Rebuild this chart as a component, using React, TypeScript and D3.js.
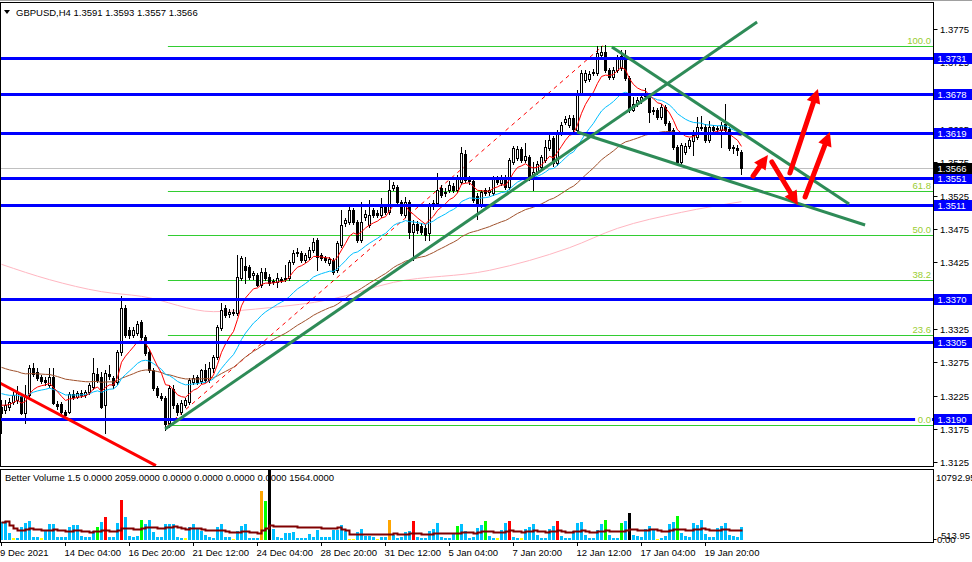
import React from "react";
import * as d3 from "d3";

// ---------- DATA ----------
const opens = [1.3208,1.3203,1.3208,1.3215,1.3219,1.3225,1.3199,1.3226,1.3267,1.3260,
1.3253,1.3249,1.3241,1.3253,1.3212,1.3212,1.3200,1.3200,1.3228,1.3223,
1.3229,1.3226,1.3230,1.3238,1.3257,1.3253,1.3211,1.3257,1.3251,1.3245,
1.3290,1.3356,1.3323,1.3316,1.3319,1.3335,1.3313,1.3290,1.3263,1.3236,
1.3224,1.3221,1.3184,1.3235,1.3211,1.3200,1.3211,1.3215,1.3245,1.3253,
1.3247,1.3263,1.3248,1.3266,1.3283,1.3326,1.3356,1.3347,1.3349,1.3349,
1.3401,1.3419,1.3418,1.3406,1.3406,1.3391,1.3410,1.3403,1.3397,1.3395,
1.3400,1.3400,1.3401,1.3426,1.3439,1.3439,1.3428,1.3433,1.3443,1.3458,
1.3436,1.3431,1.3424,1.3428,1.3413,1.3451,1.3484,1.3485,1.3503,1.3485,
1.3458,1.3493,1.3481,1.3503,1.3499,1.3496,1.3508,1.3500,1.3536,1.3538,
1.3515,1.3496,1.3515,1.3470,1.3482,1.3479,1.3476,1.3469,1.3509,1.3514,
1.3536,1.3529,1.3533,1.3539,1.3533,1.3545,1.3587,1.3550,1.3547,1.3524,
1.3511,1.3533,1.3530,1.3529,1.3550,1.3544,1.3553,1.3538,1.3575,1.3581,
1.3595,1.3578,1.3583,1.3553,1.3560,1.3568,1.3578,1.3596,1.3611,1.3574,
1.3619,1.3635,1.3631,1.3641,1.3623,1.3679,1.3698,1.3700,1.3709,1.3709,
1.3736,1.3740,1.3713,1.3703,1.3713,1.3716,1.3733,1.3701,1.3653,1.3662,
1.3667,1.3674,1.3676,1.3652,1.3653,1.3643,1.3658,1.3634,1.3623,1.3598,
1.3575,1.3590,1.3599,1.3607,1.3613,1.3626,1.3628,1.3608,1.3628,1.3625,
1.3623,1.3632,1.3625,1.3598,1.3596,1.3591];

const highs = [1.3219,1.3219,1.3222,1.3231,1.3240,1.3229,1.3241,1.3271,1.3274,1.3267,
1.3256,1.3253,1.3267,1.3267,1.3217,1.3215,1.3203,1.3231,1.3233,1.3232,
1.3233,1.3233,1.3244,1.3281,1.3267,1.3260,1.3263,1.3271,1.3254,1.3293,
1.3374,1.3361,1.3328,1.3328,1.3337,1.3338,1.3316,1.3295,1.3267,1.3239,
1.3229,1.3224,1.3241,1.3241,1.3214,1.3219,1.3222,1.3251,1.3256,1.3256,
1.3265,1.3272,1.3275,1.3286,1.3331,1.3364,1.3361,1.3355,1.3355,1.3436,
1.3434,1.3433,1.3421,1.3412,1.3409,1.3416,1.3416,1.3407,1.3400,1.3409,
1.3403,1.3421,1.3428,1.3444,1.3446,1.3442,1.3439,1.3448,1.3461,1.3461,
1.3439,1.3434,1.3433,1.3431,1.3457,1.3503,1.3491,1.3508,1.3506,1.3488,
1.3515,1.3503,1.3518,1.3506,1.3503,1.3521,1.3511,1.3550,1.3545,1.3541,
1.3518,1.3523,1.3518,1.3488,1.3487,1.3484,1.3481,1.3514,1.3518,1.3559,
1.3541,1.3536,1.3547,1.3544,1.3556,1.3598,1.3593,1.3554,1.3550,1.3529,
1.3533,1.3536,1.3538,1.3554,1.3554,1.3556,1.3556,1.3581,1.3599,1.3599,
1.3598,1.3604,1.3586,1.3575,1.3577,1.3586,1.3608,1.3619,1.3614,1.3623,
1.3635,1.3644,1.3646,1.3646,1.3683,1.3713,1.3713,1.3712,1.3715,1.3749,
1.3749,1.3751,1.3716,1.3718,1.3736,1.3743,1.3743,1.3704,1.3673,1.3673,
1.3676,1.3686,1.3679,1.3658,1.3656,1.3662,1.3661,1.3637,1.3626,1.3601,
1.3604,1.3604,1.3611,1.3623,1.3643,1.3644,1.3632,1.3637,1.3631,1.3629,
1.3635,1.3662,1.3628,1.3601,1.3601,1.3593];

const lows = [1.3169,1.3199,1.3203,1.3212,1.3214,1.3197,1.3184,1.3223,1.3254,1.3249,
1.3244,1.3241,1.3238,1.3212,1.3205,1.3197,1.3191,1.3199,1.3220,1.3221,
1.3223,1.3223,1.3227,1.3235,1.3245,1.3206,1.3169,1.3250,1.3236,1.3242,
1.3286,1.3313,1.3311,1.3313,1.3316,1.3310,1.3286,1.3260,1.3233,1.3223,
1.3219,1.3174,1.3178,1.3206,1.3196,1.3197,1.3208,1.3212,1.3242,1.3242,
1.3244,1.3245,1.3245,1.3260,1.3280,1.3323,1.3343,1.3343,1.3346,1.3346,
1.3398,1.3394,1.3400,1.3400,1.3389,1.3388,1.3398,1.3391,1.3392,1.3388,
1.3395,1.3397,1.3398,1.3423,1.3434,1.3425,1.3425,1.3430,1.3440,1.3413,
1.3428,1.3425,1.3421,1.3407,1.3410,1.3448,1.3479,1.3482,1.3482,1.3455,
1.3455,1.3488,1.3478,1.3493,1.3493,1.3493,1.3497,1.3497,1.3533,1.3512,
1.3496,1.3493,1.3461,1.3428,1.3469,1.3467,1.3458,1.3458,1.3505,1.3511,
1.3523,1.3524,1.3530,1.3530,1.3530,1.3542,1.3545,1.3542,1.3515,1.3490,
1.3508,1.3526,1.3526,1.3526,1.3542,1.3541,1.3535,1.3535,1.3572,1.3578,
1.3575,1.3575,1.3548,1.3533,1.3557,1.3565,1.3575,1.3593,1.3569,1.3571,
1.3616,1.3632,1.3628,1.3622,1.3620,1.3676,1.3695,1.3697,1.3706,1.3706,
1.3733,1.3710,1.3700,1.3700,1.3710,1.3713,1.3698,1.3650,1.3652,1.3659,
1.3664,1.3671,1.3635,1.3647,1.3640,1.3640,1.3631,1.3620,1.3595,1.3572,
1.3572,1.3587,1.3596,1.3586,1.3610,1.3623,1.3605,1.3605,1.3620,1.3622,
1.3598,1.3620,1.3593,1.3589,1.3586,1.3557];

const closes = [1.3199,1.3211,1.3215,1.3226,1.3229,1.3199,1.3226,1.3267,1.3257,1.3251,
1.3247,1.3245,1.3253,1.3214,1.3209,1.3200,1.3196,1.3228,1.3223,1.3229,
1.3226,1.3230,1.3241,1.3259,1.3248,1.3208,1.3259,1.3254,1.3241,1.3290,
1.3356,1.3316,1.3316,1.3323,1.3332,1.3313,1.3289,1.3263,1.3236,1.3226,
1.3221,1.3182,1.3236,1.3211,1.3200,1.3214,1.3219,1.3248,1.3251,1.3245,
1.3263,1.3248,1.3266,1.3283,1.3328,1.3353,1.3346,1.3350,1.3350,1.3403,
1.3431,1.3413,1.3403,1.3409,1.3391,1.3410,1.3401,1.3394,1.3395,1.3401,
1.3398,1.3401,1.3425,1.3439,1.3440,1.3428,1.3436,1.3443,1.3455,1.3433,
1.3431,1.3428,1.3430,1.3410,1.3454,1.3481,1.3488,1.3503,1.3485,1.3458,
1.3485,1.3497,1.3496,1.3496,1.3496,1.3508,1.3500,1.3533,1.3541,1.3515,
1.3499,1.3515,1.3470,1.3482,1.3473,1.3470,1.3466,1.3511,1.3514,1.3533,
1.3526,1.3530,1.3541,1.3533,1.3553,1.3589,1.3548,1.3547,1.3518,1.3514,
1.3530,1.3529,1.3533,1.3551,1.3545,1.3553,1.3538,1.3578,1.3596,1.3595,
1.3578,1.3584,1.3553,1.3560,1.3572,1.3583,1.3598,1.3608,1.3574,1.3619,
1.3631,1.3640,1.3641,1.3625,1.3679,1.3709,1.3709,1.3707,1.3710,1.3739,
1.3740,1.3713,1.3703,1.3713,1.3733,1.3734,1.3701,1.3653,1.3662,1.3668,
1.3673,1.3679,1.3650,1.3653,1.3643,1.3658,1.3634,1.3623,1.3598,1.3575,
1.3601,1.3599,1.3608,1.3616,1.3628,1.3628,1.3608,1.3628,1.3623,1.3626,
1.3631,1.3623,1.3596,1.3596,1.3593,1.3566];

const volumes = [2690,2945,980,260,260,2015,2580,2945,465,465,
205,1395,2430,2430,360,360,360,1910,2325,2325,
620,360,360,1395,2015,2790,3565,360,360,2530,
6200,3460,620,465,620,3100,2430,3050,1135,360,
360,2430,2430,2430,465,260,260,2015,2430,1655,
1395,775,465,260,2015,2430,465,360,100,1395,
2170,2430,260,260,260,7595,6045,10793,1655,465,
260,980,980,1135,260,260,260,880,465,1500,
465,465,465,1500,1500,2325,1395,100,100,1135,
1655,620,620,360,100,360,360,3050,775,260,
360,1240,1395,2945,465,260,260,1395,1705,2635,
465,260,260,980,2170,2480,1395,260,465,1860,
2325,2945,620,260,260,1550,2635,2945,465,260,
260,1655,2015,2480,775,260,260,1705,2170,2945,
620,260,260,1395,2635,2790,775,260,260,1550,
2480,3100,775,260,260,2635,2945,4185,775,620,
465,1705,2170,1550,100,260,620,2480,2790,3720,
1085,620,465,2635,2325,3100,930,465,465,1860,
2170,2635,775,620,465,2015];

// Better Volume bar classes
const lowVolumeBars = [3,10,46,58,87,88,94,124,130,164];
const climaxUpBars = [26,30,103,127,139];
const churnBars = [24,35,66,114,121,151,155,169];
const climaxDownBars = [65,97];
const climaxChurnBars = [67,157];

const timeTickBars = [0,16,32,48,64,80,96,112,128,144,160,176];
const timeTickLabels = ["9 Dec 2021","14 Dec 04:00","16 Dec 20:00","21 Dec 12:00","24 Dec 04:00","28 Dec 20:00","31 Dec 12:00","5 Jan 04:00","7 Jan 20:00","12 Jan 12:00","17 Jan 04:00","19 Jan 20:00"];

const priceTicks = [1.3775,1.3725,1.3675,1.3625,1.3575,1.3525,1.3475,1.3425,1.3375,1.3325,1.3275,1.3225,1.3175,1.3125];
const levelPrices = [1.3731,1.3678,1.3619,1.3551,1.3511,1.3370,1.3305,1.3190];
const fibLevels = [0,23.6,38.2,50,61.8,100];
const fibLow = 1.3181;
const fibHigh = 1.3750;
const fibLowBar = 41.6;
const fibHighBar = 150.4;
const currentPrice = 1.3566;

// moving-average starting values read at the first bar
const redMaStart = 1.3214;
const blueMaStart = 1.3231;
const brownMaStart = 1.3270;
const pinkMaBars = [0,12,25,35,53,67,82,98,122,142,154,170,185];
const pinkMaValues = [1.3422,1.3399,1.3381,1.3374,1.3351,1.3357,1.3369,1.3395,1.3413,1.3447,1.3476,1.3500,1.3516];

// drawn objects: [bar1, price1, bar2, price2]
const greenTrendlines = [
  [40.9,1.3175,188.9,1.37855],
  [143.9,1.36205,215.9,1.3481],
  [152.6,1.3748,211.9,1.35125],
];
const redTrendlines = [[-0.4,1.3244,38.6,1.3120]];
const redArrows = [
  [187.9,1.35545,191.6,1.3586],
  [192.6,1.35755,199.1,1.3511],
  [197.1,1.3559,204.1,1.3685],
  [200.9,1.3523,207.1,1.36205],
];

const headerText = "GBPUSD,H4  1.3591 1.3593 1.3557 1.3566";
const volumeHeader = "Better Volume 1.5 0.0000 2059.0000 0.0000 0.0000 0.0000 0.0000 1564.0000";
const volumeMax = 10792.95;

// ---------- HELPERS ----------
function ema(values: number[], period: number, seed: number) {
  const k = 2 / (period + 1);
  let prev = seed;
  return values.map((v) => (prev = prev + k * (v - prev)));
}
function sma(values: number[], period: number) {
  return values.map((_, i) => {
    const s = Math.max(0, i - period + 1);
    const w = values.slice(s, i + 1);
    return d3.mean(w) as number;
  });
}

const FONT = "'Liberation Sans', Arial, sans-serif";

export default function App() {
  const AXIS_X = 933.5;
  const x = d3.scaleLinear().domain([0, 1]).range([1.5, 5.5]);
  const y = d3.scaleLinear().domain([1.3125, 1.3775]).range([462.33, 29]);
  const yv = d3.scaleLinear().domain([0, volumeMax]).range([539.5, 470]);

  const n = closes.length;
  const idx = d3.range(n);
  const redMa = ema(closes, 8, redMaStart);
  const blueMa = ema(closes, 21, blueMaStart);
  const brownMa = ema(closes, 55, brownMaStart);
  const volAvg = sma(volumes, 20);

  const maLine = d3.line<number>().x((_, i) => x(i)).y((d) => y(d));
  const pinkLine = d3
    .line<number>()
    .x((_, i) => x(pinkMaBars[i]))
    .y((d) => y(d))
    .curve(d3.curveMonotoneX);
  const volLine = d3.line<number>().x((_, i) => x(i)).y((d) => Math.round(yv(d)) + 0.5).curve(d3.curveStepAfter);

  const volColor = (i: number) => {
    if (climaxChurnBars.includes(i)) return "#000000";
    if (climaxDownBars.includes(i)) return "#FFA500";
    if (climaxUpBars.includes(i)) return "#FF0000";
    if (churnBars.includes(i)) return "#00FF00";
    if (lowVolumeBars.includes(i)) return "#FFFF00";
    return "#00BFFF";
  };

  const fibPrice = (lv: number) => fibLow + (fibHigh - fibLow) * (lv / 100);

  const arrowShapes = redArrows.map(([b1, p1, b2, p2]) => {
    const x1 = x(b1), y1 = y(p1), x2 = x(b2), y2 = y(p2);
    const dx = x2 - x1, dy = y2 - y1;
    const len = Math.hypot(dx, dy);
    const ux = dx / len, uy = dy / len;
    const hl = 14, hw = 7;
    const bx = x2 - ux * hl, by = y2 - uy * hl;
    const px = -uy, py = ux;
    return {
      shaft: [x1, y1, bx + ux * 2, by + uy * 2],
      head: `${x2},${y2} ${bx + px * hw},${by + py * hw} ${bx - px * hw},${by - py * hw}`,
    };
  });

  return (
    <svg
      width={972}
      height={562}
      style={{ position: "absolute", left: 0, top: 0, background: "#ffffff" }}
      fontFamily={FONT}
      fontSize={9.5}
    >
      <defs>
        <clipPath id="mainClip">
          <rect x={1} y={3} width={932} height={463} />
        </clipPath>
        <clipPath id="volClip">
          <rect x={1} y={470} width={932} height={72} />
        </clipPath>
      </defs>
      <rect x={0} y={0} width={972} height={562} fill="#ffffff" />
      <rect x={0} y={0} width={972} height={1} fill="#a0a0a0" />

      {/* MAIN PANEL */}
      <g clipPath="url(#mainClip)">
        {/* pink MA */}
        <path d={pinkLine(pinkMaValues) || ""} fill="none" stroke="#FFB6C1" strokeWidth={1} />
        {/* fib lines */}
        {fibLevels.map((lv) => {
          const yy = Math.round(y(fibPrice(lv))) + 0.5;
          return <line key={"f" + lv} x1={x(fibLowBar)} x2={AXIS_X} y1={yy} y2={yy} stroke="#32CD32" strokeWidth={1} />;
        })}
        <line
          x1={x(fibLowBar)}
          y1={y(fibLow)}
          x2={x(fibHighBar)}
          y2={y(fibHigh)}
          stroke="#FF0000"
          strokeWidth={1}
          strokeDasharray="4,4"
        />
        {/* current price line */}
        <line x1={0} x2={AXIS_X} y1={Math.round(y(currentPrice)) + 0.5} y2={Math.round(y(currentPrice)) + 0.5} stroke="#C0C0C0" strokeWidth={1} />
        {/* candles */}
        {idx.map((i) => {
          const o = opens[i], h = highs[i], l = lows[i], c = closes[i];
          const cx = x(i);
          const top = Math.round(y(Math.max(o, c))) + 0.5;
          const bot = Math.round(y(Math.min(o, c))) + 0.5;
          const bull = c >= o;
          return (
            <g key={"c" + i}>
              <line x1={cx} x2={cx} y1={Math.round(y(h))} y2={Math.round(y(l)) + 1} stroke="#000" strokeWidth={1} />
              {bot - top >= 1 ? (
                <rect x={cx - 1} y={top} width={2} height={bot - top} fill={bull ? "#fff" : "#000"} stroke="#000" strokeWidth={1} />
              ) : (
                <line x1={cx - 1.5} x2={cx + 1.5} y1={top} y2={top} stroke="#000" strokeWidth={1} />
              )}
            </g>
          );
        })}
        {/* MAs */}
        <path d={maLine(brownMa) || ""} fill="none" stroke="#A0522D" strokeWidth={1} />
        <path d={maLine(blueMa) || ""} fill="none" stroke="#00BFFF" strokeWidth={1} />
        <path d={maLine(redMa) || ""} fill="none" stroke="#FF0000" strokeWidth={1} />
        {/* horizontal levels */}
        {levelPrices.map((p) => {
          const yy = Math.round(y(p)) + 0.5;
          return <line key={"h" + p} x1={0} x2={AXIS_X} y1={yy} y2={yy} stroke="#0000FF" strokeWidth={3} />;
        })}
        {/* trendlines */}
        {greenTrendlines.map(([b1, p1, b2, p2], k) => (
          <line key={"g" + k} x1={x(b1)} y1={y(p1)} x2={x(b2)} y2={y(p2)} stroke="#2E8B57" strokeWidth={3} />
        ))}
        {redTrendlines.map(([b1, p1, b2, p2], k) => (
          <line key={"r" + k} x1={x(b1)} y1={y(p1)} x2={x(b2)} y2={y(p2)} stroke="#FF0000" strokeWidth={3} />
        ))}
        {/* arrows */}
        {arrowShapes.map((a, k) => (
          <g key={"a" + k}>
            <line x1={a.shaft[0]} y1={a.shaft[1]} x2={a.shaft[2]} y2={a.shaft[3]} stroke="#FF0000" strokeWidth={5} strokeLinecap="round" />
            <polygon points={a.head} fill="#FF0000" />
          </g>
        ))}
        {/* fib labels */}
        {fibLevels.map((lv) => {
          const label = lv.toFixed(1);
          const ty = Math.round(y(fibPrice(lv))) - 2;
          const w = label.length * 5.3;
          return (
            <g key={"fl" + lv}>
              <rect x={932 - w - 1} y={ty - 7} width={w + 1} height={8} fill="#fff" />
              <text x={931} y={ty} textAnchor="end" fill="#9ACD32">
                {label}
              </text>
            </g>
          );
        })}
      </g>

      {/* header */}
      <path d="M4,10 L10,10 L7,14 Z" fill="#000" />
      <text x={16} y={16} fill="#000">{headerText}</text>

      {/* panel frames */}
      <rect x={0.5} y={2.5} width={AXIS_X - 0.5} height={464} fill="none" stroke="#000" strokeWidth={1} />
      <rect x={0.5} y={469.5} width={AXIS_X - 0.5} height={73} fill="none" stroke="#000" strokeWidth={1} />

      {/* price axis */}
      {priceTicks.map((p) => {
        const yy = Math.round(y(p)) + 0.5;
        return (
          <g key={"pt" + p}>
            <line x1={AXIS_X} x2={AXIS_X + 4} y1={yy} y2={yy} stroke="#000" />
            <text x={940} y={yy + 3.5} fill="#000">{p.toFixed(4)}</text>
          </g>
        );
      })}
      {levelPrices.map((p) => {
        const yy = Math.round(y(p));
        return (
          <g key={"lb" + p}>
            <rect x={934} y={yy - 5} width={38} height={11} fill="#0000FF" />
            <text x={937.5} y={yy + 4} fill="#fff">{p.toFixed(4)}</text>
          </g>
        );
      })}
      <g>
        <rect x={934} y={Math.round(y(currentPrice)) - 5} width={38} height={11} fill="#000" />
        <text x={937.5} y={Math.round(y(currentPrice)) + 4} fill="#fff">{currentPrice.toFixed(4)}</text>
      </g>

      {/* VOLUME PANEL */}
      <g clipPath="url(#volClip)">
        {idx.map((i) => {
          const top = Math.round(yv(volumes[i]));
          return <rect key={"v" + i} x={x(i) - 1.5} y={top} width={3} height={540 - top} fill={volColor(i)} />;
        })}
        <path d={volLine(volAvg) || ""} fill="none" stroke="#800000" strokeWidth={2} />
      </g>
      <text x={5} y={481} fill="#000">{volumeHeader}</text>
      <text x={936} y={481} fill="#000">{volumeMax.toFixed(2)}</text>
      <line x1={AXIS_X} x2={AXIS_X + 3} y1={539.5} y2={539.5} stroke="#000" />
      <text x={941} y={539} fill="#000">513.95</text>
      <text x={937} y={543} fill="#000">0.00</text>

      {/* time axis */}
      {timeTickBars.map((b, k) => (
        <g key={"tt" + b}>
          <line x1={x(b)} x2={x(b)} y1={542} y2={546} stroke="#000" />
          <text x={k === 0 ? 0 : x(b) - 1} y={556} fill="#000">{timeTickLabels[k]}</text>
        </g>
      ))}
    </svg>
  );
}
